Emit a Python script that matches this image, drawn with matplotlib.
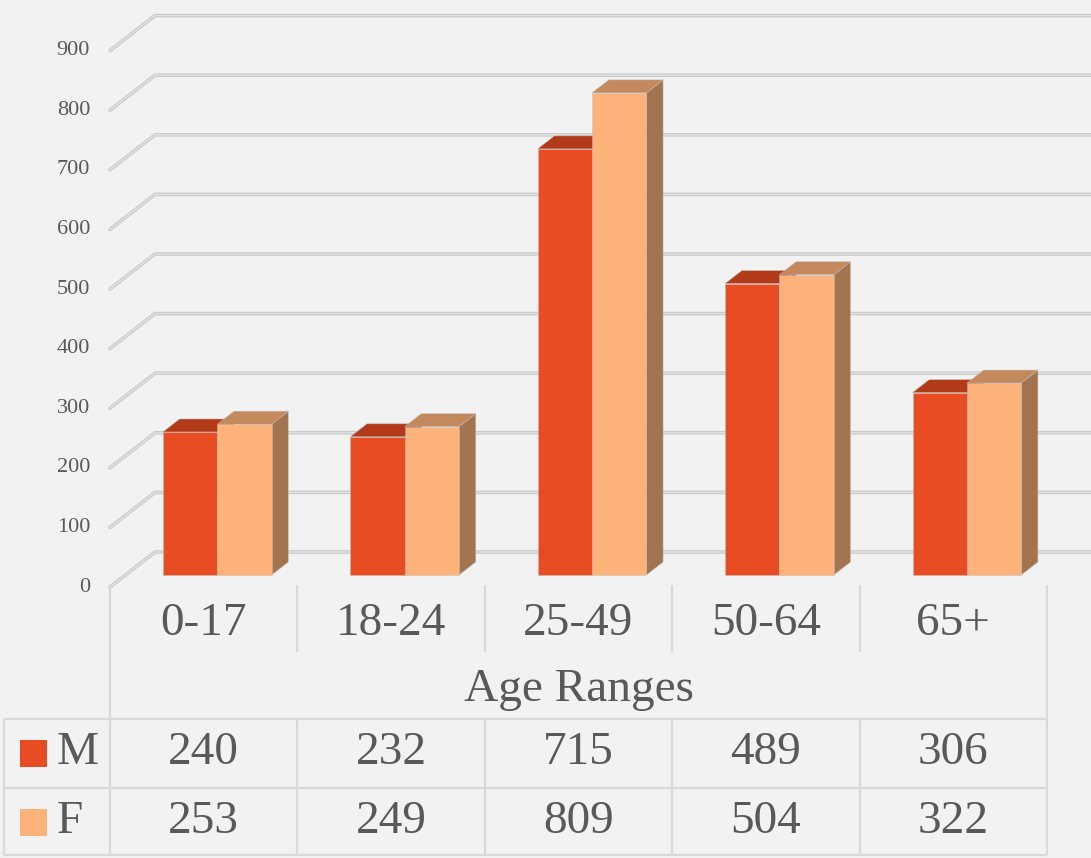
import matplotlib
matplotlib.use('Agg')
import matplotlib.pyplot as plt
from matplotlib.patches import Polygon, Rectangle

categories = ['0-17', '18-24', '25-49', '50-64', '65+']
male = [240, 232, 715, 489, 306]
female = [253, 249, 809, 504, 322]
yticks = [0, 100, 200, 300, 400, 500, 600, 700, 800, 900]
series_names = ['M', 'F']
axis_title = 'Age Ranges'

bg = '#F2F2F2'
txt = '#595959'
line_c = '#D9D9D9'
# front, top, side colours per series
m_cols = ('#E84C22', '#B23A19', '#A8391A')
f_cols = ('#FDB27A', '#C4895D', '#A37450')

W, H = 1091, 858
fig = plt.figure(figsize=(W / 100, H / 100), dpi=100, facecolor=bg)
plt.rcParams['font.family'] = ['Liberation Serif', 'DejaVu Serif']

# front plane axes: x = category units, y = values
x_left, x_right = 110, 1047
y_zero, px_per_unit = 587, 0.596
top_px = y_zero - 900 * px_per_unit
ax = fig.add_axes([x_left / W, (H - y_zero) / H, (x_right - x_left) / W, (y_zero - top_px) / H])
ax.set_xlim(0, 5)
ax.set_ylim(0, 900)
ax.axis('off')
ax.set_facecolor('none')

xu = (x_right - x_left) / 5.0  # pixels per category
DX = 45 / xu                    # full depth offset in data units
DY = 35 / px_per_unit
d0, d1 = 0.343, 0.714           # bar front / back depth fractions

def pt(x, y, d):
    return (x + d * DX, y + d * DY)

# gridlines (floor diagonal + back wall)
x_end = (W - x_left) / xu
for v in yticks:
    xs = [0, DX, x_end]
    ys = [v, v + DY, v + DY]
    ax.plot(xs, ys, color='#CACACA', lw=2.6, clip_on=False, zorder=1, solid_capstyle='round')
    ax.plot(xs, ys, color='#E4E4E4', lw=0.9, clip_on=False, zorder=1.1)
    ax.text(-20 / xu, v, str(v), ha='right', va='center', fontsize=16, color=txt)

def bar3d(x0, x1, v, cols):
    front = [pt(x0, 0, d0), pt(x1, 0, d0), pt(x1, v, d0), pt(x0, v, d0)]
    top = [pt(x0, v, d0), pt(x1, v, d0), pt(x1, v, d1), pt(x0, v, d1)]
    side = [pt(x1, 0, d0), pt(x1, 0, d1), pt(x1, v, d1), pt(x1, v, d0)]
    for poly, c in ((side, cols[2]), (top, cols[1]), (front, cols[0])):
        ax.add_patch(Polygon(poly, closed=True, facecolor=c, edgecolor=(0.75, 0.75, 0.75, 0.5),
                             lw=0.6, zorder=3, clip_on=False))

bw = 0.29
for i in range(len(categories)):
    bar3d(i + 0.2, i + 0.2 + bw, male[i], m_cols)
    bar3d(i + 0.2 + bw, i + 0.2 + 2 * bw, female[i], f_cols)

# data table overlay in pixel space
tb = fig.add_axes([0, 0, 1, 1])
tb.set_xlim(0, W)
tb.set_ylim(H, 0)
tb.axis('off')
tb.set_facecolor('none')

col_x = [x_left + xu * k for k in range(6)]
lk = dict(color=line_c, lw=1.6, solid_capstyle='butt')
for k in range(1, 5):
    tb.plot([col_x[k], col_x[k]], [585, 652], **lk)
    tb.plot([col_x[k], col_x[k]], [719, 855], **lk)
tb.plot([x_left, x_left], [585, 855], **lk)
tb.plot([x_right, x_right], [585, 855], **lk)
tb.plot([4, 4], [719, 855], **lk)
for yy in (719, 788, 855):
    tb.plot([4, x_right], [yy, yy], **lk)

for k, c in enumerate(categories):
    tb.text((col_x[k] + col_x[k + 1]) / 2, 624, c, ha='center', va='center', fontsize=34, color=txt)
tb.text((x_left + x_right) / 2, 690, axis_title, ha='center', va='center', fontsize=34, color=txt)

rows = [(male, 753, m_cols[0]), (female, 822, f_cols[0])]
for (vals, yc, col), name in zip(rows, series_names):
    tb.add_patch(Rectangle((20, yc - 13.5), 27, 27, facecolor=col, edgecolor='none'))
    tb.text(57, yc, name, ha='left', va='center', fontsize=34, color=txt)
    for k, v in enumerate(vals):
        tb.text((col_x[k] + col_x[k + 1]) / 2, yc, str(v), ha='center', va='center', fontsize=34, color=txt)

fig.savefig('out.png', dpi=100, facecolor=bg)
